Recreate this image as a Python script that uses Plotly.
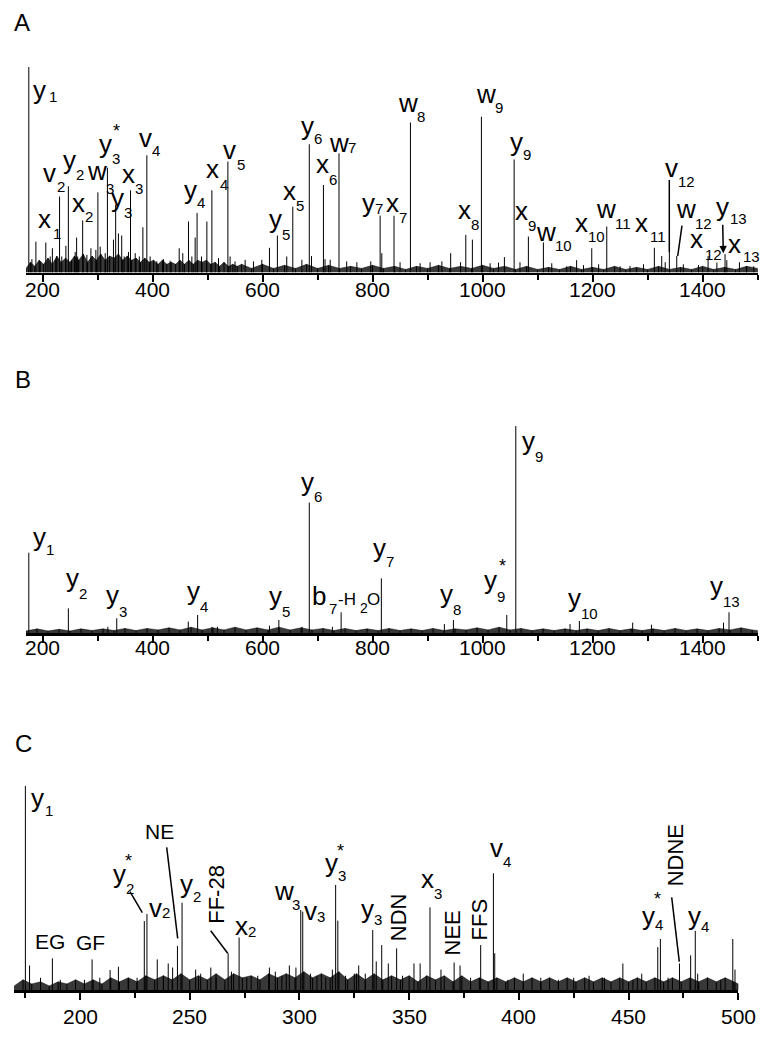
import plotly.graph_objects as go

W, H = 770, 1044
FONT = "Liberation Sans, Arial, sans-serif"

# ---------------- Panel A data (m/z, relative intensity) ----------------
A_mz = [175.1, 188, 206, 218, 231, 247, 262, 273, 300.7, 318, 333, 338, 344, 360, 382.5,
        389.7, 465.4, 481, 498.8, 507.9, 537, 612.6, 627, 655, 685, 710.7, 739, 813.8,
        839, 868.9, 942, 969.5, 981.5, 997.9, 1039.7, 1057.4, 1083.3, 1110.6, 1171,
        1198.5, 1225.8, 1312.3, 1325.7, 1339.6, 1353, 1410, 1440.8, 1467]
A_int = [1.0, 0.15, 0.146, 0.118, 0.37, 0.42, 0.17, 0.253, 0.39, 0.51, 0.33, 0.19, 0.18, 0.40, 0.22,
         0.57, 0.248, 0.29, 0.248, 0.40, 0.54, 0.12, 0.18, 0.32, 0.624, 0.426, 0.58, 0.277,
         0.276, 0.73, 0.094, 0.183, 0.16, 0.758, 0.075, 0.55, 0.175, 0.146, 0.06,
         0.118, 0.224, 0.12, 0.08, 0.10, 0.08, 0.08, 0.09, 0.05]
A_minor_mz = [180.7, 195.8, 214, 224, 235, 242.5, 253, 259.4, 264, 280.7, 288, 297, 304.9, 314,
              329, 348.5, 356.3, 368.5, 376, 395.7, 407.7, 420, 432, 448.5, 455, 471.5, 477.5,
              489, 520, 541, 550, 568.4, 583.5, 598.7, 644, 671.5, 689, 713.6, 723, 753, 771.5,
              796.8, 816.8, 850, 886.5, 904.6, 926, 960, 1013.7, 1029, 1068, 1125.8, 1153,
              1183.5, 1211, 1250, 1268, 1292.5, 1332, 1365, 1392.5, 1426, 1444, 1480, 1493]
A_minor_int = [0.065, 0.054, 0.078, 0.062, 0.078, 0.13, 0.06, 0.10, 0.078, 0.086, 0.118, 0.11, 0.126, 0.094,
               0.16, 0.078, 0.10, 0.094, 0.078, 0.078, 0.054, 0.065, 0.057, 0.118, 0.094, 0.078, 0.17,
               0.078, 0.07, 0.078, 0.054, 0.062, 0.054, 0.062, 0.078, 0.062, 0.08, 0.065, 0.062, 0.054, 0.05,
               0.054, 0.094, 0.05, 0.045, 0.05, 0.054, 0.05, 0.045, 0.048, 0.05, 0.045, 0.03,
               0.036, 0.04, 0.03, 0.032, 0.04, 0.05, 0.04, 0.036, 0.048, 0.06, 0.03, 0.03]
# noise floor ("grass") read as a jagged envelope
A_grass_mz = [170, 178, 186, 194, 202, 210, 218, 226, 234, 242, 250, 258, 266, 274, 282, 290, 298,
              306, 314, 322, 330, 338, 346, 354, 362, 370, 378, 386, 394, 402, 410, 418, 426, 434,
              442, 450, 458, 466, 474, 482, 490, 498, 506, 514, 522, 530, 538, 546, 554, 562,
              580, 600, 620, 640, 660, 680, 700, 720, 740, 760, 780, 800, 820, 840, 860, 880, 900,
              920, 940, 960, 980, 1000, 1020, 1040, 1060, 1080, 1100, 1120, 1140, 1160, 1180, 1200,
              1220, 1240, 1260, 1280, 1300, 1320, 1340, 1360, 1380, 1400, 1420, 1440, 1460, 1480, 1500]
A_grass_h = [0.02, 0.05, 0.03, 0.06, 0.04, 0.07, 0.04, 0.08, 0.05, 0.07, 0.05, 0.08, 0.06, 0.09, 0.05,
             0.08, 0.06, 0.09, 0.06, 0.08, 0.07, 0.09, 0.06, 0.08, 0.06, 0.07, 0.05, 0.07, 0.05, 0.06,
             0.04, 0.06, 0.04, 0.05, 0.04, 0.06, 0.04, 0.06, 0.04, 0.06, 0.05, 0.06, 0.04, 0.05, 0.03,
             0.05, 0.03, 0.04, 0.03, 0.04,
             0.02, 0.04, 0.02, 0.035, 0.02, 0.04, 0.02, 0.035, 0.02, 0.03,
             0.02, 0.035, 0.02, 0.03, 0.015, 0.03, 0.02, 0.035, 0.02, 0.03,
             0.02, 0.035, 0.02, 0.03, 0.015, 0.03, 0.015, 0.025, 0.015, 0.03,
             0.015, 0.025, 0.015, 0.03, 0.015, 0.025, 0.015, 0.03, 0.015, 0.025,
             0.015, 0.03, 0.015, 0.025, 0.015, 0.03, 0.02]

# ---------------- Panel B data ----------------
B_mz = [175.1, 247, 318.8, 335, 465, 482, 508, 518, 612.6, 629.7, 672, 685, 727, 742.9, 816,
        930.6, 947, 1044, 1060.4, 1159, 1176, 1272.9, 1307, 1438, 1448]
B_int = [0.388, 0.119, 0.03, 0.071, 0.055, 0.087, 0.03, 0.03, 0.035, 0.063, 0.03, 0.63, 0.03, 0.10, 0.264,
         0.043, 0.063, 0.087, 1.0, 0.043, 0.058, 0.05, 0.04, 0.05, 0.10]
B_grass_mz = [170, 190, 210, 230, 250, 270, 290, 310, 330, 350, 370, 390, 410, 430, 450, 470, 490,
              510, 530, 550, 570, 590, 610, 630, 650, 670, 690, 710, 730, 750, 770, 790, 810, 830,
              850, 870, 890, 910, 930, 950, 970, 990, 1010, 1030, 1050, 1070, 1090, 1110, 1130,
              1150, 1170, 1190, 1210, 1230, 1250, 1270, 1290, 1310, 1330, 1350, 1370, 1390, 1410,
              1430, 1450, 1470, 1490, 1500]
B_grass_h = [0.01, 0.02, 0.01, 0.018, 0.01, 0.02, 0.012, 0.02, 0.012, 0.022,
             0.012, 0.022, 0.015, 0.025, 0.015, 0.028, 0.015, 0.025, 0.015, 0.028,
             0.015, 0.025, 0.015, 0.028, 0.015, 0.025, 0.015, 0.022, 0.012, 0.022,
             0.012, 0.02, 0.012, 0.022, 0.012, 0.02, 0.012, 0.022, 0.012, 0.02,
             0.015, 0.025, 0.015, 0.028, 0.015, 0.022, 0.012, 0.02, 0.012, 0.02,
             0.012, 0.02, 0.012, 0.022, 0.012, 0.02, 0.012, 0.02, 0.012, 0.022,
             0.012, 0.02, 0.012, 0.022, 0.015, 0.025, 0.015, 0.012]

# ---------------- Panel C data ----------------
C_mz = [175.1, 177, 182, 187.4, 191, 202, 205.5, 209, 213.7, 217.5, 222, 226, 229.3, 230.5, 235.2,
        238, 240.2, 242.2, 244.4, 246.5, 252.7, 255, 259.6, 262, 267.5, 269, 272.5, 276, 281,
        286.3, 289, 292, 295.4, 298.4, 300.6, 301.5, 305, 308, 312, 315, 316.5, 317.5, 321, 325,
        327, 330, 333.4, 335, 337.5, 340.5, 344.3, 347, 352.2, 355, 359.5, 364.5, 370.5, 373.2,
        378, 382.6, 388.4, 389, 395, 402, 410, 418, 425, 432, 439, 447.4, 452, 456, 463.3,
        464.5, 468, 473.2, 478.3, 480.4, 481.5, 486, 492, 497.5, 498.5]
C_int = [1.0, 0.12, 0.06, 0.155, 0.05, 0.05, 0.15, 0.06, 0.098, 0.114, 0.05, 0.06, 0.338, 0.373, 0.15,
         0.07, 0.13, 0.11, 0.216, 0.428, 0.10, 0.08, 0.11, 0.06, 0.18, 0.09, 0.257, 0.06, 0.07,
         0.11, 0.09, 0.07, 0.12, 0.11, 0.392, 0.384, 0.08, 0.07, 0.06, 0.10, 0.515, 0.34, 0.07, 0.08,
         0.12, 0.08, 0.294, 0.14, 0.22, 0.13, 0.204, 0.07, 0.13, 0.13, 0.405, 0.10, 0.135, 0.12,
         0.06, 0.22, 0.572, 0.18, 0.05, 0.08, 0.06, 0.05, 0.06, 0.07, 0.06, 0.13, 0.05, 0.08, 0.21,
         0.25, 0.06, 0.13, 0.17, 0.29, 0.08, 0.06, 0.05, 0.25, 0.10]
C_grass_mz = [170, 174, 178, 182, 186, 190, 194, 198, 202, 206, 210, 214, 218, 222, 226, 230, 234,
              238, 242, 246, 250, 254, 258, 262, 266, 270, 274, 278, 282, 286, 290, 294, 298, 302,
              306, 310, 314, 318, 322, 326, 330, 334, 338, 342, 346, 350, 354, 358, 362, 366, 370,
              374, 378, 382, 386, 390, 394, 398, 402, 406, 410, 414, 418, 422, 426, 430, 434, 438,
              442, 446, 450, 454, 458, 462, 466, 470, 474, 478, 482, 486, 490, 494, 498, 500]
C_grass_h = [0.02, 0.05, 0.03, 0.04, 0.02, 0.04, 0.03, 0.05, 0.03, 0.05,
             0.03, 0.06, 0.04, 0.06, 0.04, 0.07, 0.05, 0.07, 0.05, 0.08,
             0.05, 0.07, 0.05, 0.08, 0.05, 0.08, 0.06, 0.07, 0.05, 0.08,
             0.06, 0.08, 0.06, 0.09, 0.06, 0.08, 0.06, 0.09, 0.05, 0.08,
             0.05, 0.08, 0.05, 0.07, 0.05, 0.07, 0.04, 0.07, 0.05, 0.07,
             0.04, 0.07, 0.04, 0.06, 0.04, 0.06, 0.04, 0.06, 0.04, 0.06,
             0.04, 0.06, 0.04, 0.06, 0.04, 0.06, 0.04, 0.06, 0.04, 0.06,
             0.04, 0.06, 0.04, 0.06, 0.04, 0.06, 0.04, 0.06, 0.04, 0.06,
             0.04, 0.06, 0.04, 0.03]

# tick labels
AB_ticks = [200, 400, 600, 800, 1000, 1200, 1400]
C_ticks = [200, 250, 300, 350, 400, 450, 500]

# ---------------- Labels (letter, subscript, glyph-left px, baseline px, sub-left px, sub-baseline px) --
A_labels = [
    ("y", "1", 33.3, 99.3, 49.3, 101.7), ("x", "1", 38.3, 228.3, 53.3, 238.3),
    ("v", "2", 43.3, 181.7, 57.3, 191.7), ("y", "2", 63.3, 169.3, 76, 180),
    ("w", "3", 87.3, 180, 106, 193.3), ("x", "2", 72.7, 211.7, 85, 221.7),
    ("y", "3", 99.3, 153.3, 111.7, 164), ("y", "3", 111, 206.7, 120.7, 217.3),
    ("x", "3", 122.7, 183.3, 135, 194), ("v", "4", 139.3, 147.3, 152.7, 156),
    ("y", "4", 184.3, 199.3, 196.7, 207.3), ("x", "4", 206.7, 178.3, 220, 189.3),
    ("v", "5", 223.3, 159.3, 237.7, 169.3), ("y", "5", 269.3, 228.3, 282.7, 240),
    ("x", "5", 283.3, 200, 296.7, 210.7), ("y", "6", 301, 135, 313.3, 144),
    ("w", "7", 329.3, 151.7, 348.3, 152.7), ("x", "6", 316, 173.3, 329, 185),
    ("y", "7", 362.3, 211.7, 375, 214), ("x", "7", 386.7, 211.7, 398.3, 222.3),
    ("w", "8", 398.3, 111.7, 416.7, 121.7), ("w", "9", 476.7, 102.7, 495, 112.7),
    ("y", "9", 510, 150.7, 523.3, 159.3), ("x", "8", 458.3, 219.3, 470, 230),
    ("x", "9", 515, 220, 528.3, 230.7), ("w", "10", 536.7, 241, 555, 251),
    ("x", "10", 575, 231.7, 586.7, 241.7), ("w", "11", 596.7, 218.3, 613.3, 228.3),
    ("x", "11", 635, 231.7, 650, 241.7), ("v", "12", 665, 176.7, 676.7, 186.7),
    ("w", "12", 676.7, 217.7, 695, 228.3), ("x", "12", 690, 248.3, 705, 259.3),
    ("y", "13", 716, 216, 730, 224), ("x", "13", 728.3, 252.7, 743.3, 261.7),
]
B_labels = [
    ("y", "1", 33.3, 545.7, 46.7, 555), ("y", "2", 66.7, 587.3, 79, 599),
    ("y", "3", 106, 604, 118.3, 616.7), ("y", "4", 187.7, 600, 199.3, 611.7),
    ("y", "5", 269.3, 605, 281.7, 616.7), ("y", "6", 301.7, 490.7, 313.3, 501.7),
    ("y", "7", 373.3, 557.3, 385, 566.7), ("y", "8", 440, 603.3, 451.7, 615),
    ("y", "9", 484, 589.3, 496.7, 601.7), ("y", "9", 522.7, 450, 534, 461.7),
    ("y", "10", 568.3, 606.7, 580, 618.3), ("y", "13", 710, 595, 723.3, 606.7),
    ("b", "7", 312.7, 605, 329.3, 613.3),
]
C_labels = [
    ("y", "1", 31.7, 806.7, 45, 816), ("y", "2", 113.3, 883.3, 125, 893.3),
    ("v", "2", 149, 916.7, 160, 918), ("y", "2", 180, 892.7, 191.7, 901.7),
    ("x", "2", 235, 935, 245, 936.7), ("w", "3", 274, 900, 290, 910),
    ("v", "3", 304, 920, 316, 921.7), ("y", "3", 325, 871.7, 336.7, 880.7),
    ("y", "3", 361.7, 918.3, 372.7, 925), ("x", "3", 421.7, 888.3, 433.3, 898.3),
    ("v", "4", 490, 857.3, 501.7, 866.7), ("y", "4", 642.7, 925, 654, 930),
    ("y", "4", 688.3, 925, 699.3, 931.7),
]
stars = [(116, 126.7), (502.7, 562.3), (128.3, 857.3), (340, 846.7), (657.7, 895)]
plain_labels = [("EG", 35.7, 948.3), ("GF", 76, 949.3), ("NE", 145, 838.3)]
rotated_labels = [("FF-28", 215.8, 894), ("NDN", 398.7, 917.5), ("NEE", 452.2, 933.3),
                  ("FFS", 479.2, 919.2), ("NDNE", 675.3, 855)]
small_parts = [("-H", 338.3, 605), ("2", 360, 613.3), ("O", 367.7, 605)]
leaders = [(669.3, 180, 669.3, 252), (682, 225.7, 677.7, 256),
           (130, 891.7, 142.3, 912.7), (166.7, 847.3, 177.7, 938.3),
           (210.7, 930.7, 227.7, 953.3), (671.7, 897.3, 679.3, 961.7)]
panel_letters = [("A", 14, 30.7), ("B", 15, 388.3), ("C", 15, 751.7)]

MAIN, SUB = 26, 15
ADV = {"y": 0.5, "x": 0.5, "v": 0.5, "w": 0.722, "b": 0.556}


def sticks(mz, inten):
    xs, ys = [], []
    for m, h in zip(mz, inten):
        xs += [m, m, None]
        ys += [0, h, None]
    return xs, ys


fig = go.Figure()
for gx, gh, xa, ya in [(A_grass_mz, A_grass_h, "x", "y"), (B_grass_mz, B_grass_h, "x2", "y2"),
                       (C_grass_mz, C_grass_h, "x3", "y3")]:
    fig.add_trace(go.Scatter(x=gx, y=gh, mode="lines", fill="tozeroy",
                             fillcolor="rgba(0,0,0,0.78)", line=dict(color="rgba(0,0,0,0.8)", width=0.6),
                             xaxis=xa, yaxis=ya, hoverinfo="skip", showlegend=False))
    xs, ys = sticks(gx, gh)
    fig.add_trace(go.Scatter(x=xs, y=ys, mode="lines", line=dict(color="black", width=1),
                             xaxis=xa, yaxis=ya, hoverinfo="skip", showlegend=False))
series = [(A_mz, A_int, "x", "y"), (A_minor_mz, A_minor_int, "x", "y"),
          (B_mz, B_int, "x2", "y2"), (C_mz, C_int, "x3", "y3")]
for mz, it, xa, ya in series:
    xs, ys = sticks(mz, it)
    fig.add_trace(go.Scatter(x=xs, y=ys, mode="lines", line=dict(color="black", width=1),
                             xaxis=xa, yaxis=ya, hoverinfo="skip", showlegend=False))


def xax(dom, rng, dtick, mdtick, mtick0, anchor):
    return dict(domain=dom, range=rng, anchor=anchor, showline=True, linecolor="black",
                linewidth=2.5, ticks="outside", ticklen=7, tickwidth=2, tickcolor="black",
                tickmode="linear", tick0=200, dtick=dtick, showgrid=False, zeroline=False,
                showticklabels=False, fixedrange=True,
                minor=dict(ticks="outside", ticklen=5, tickwidth=2, tickcolor="black",
                           dtick=mdtick, tick0=mtick0, showgrid=False))


def yax(dom, anchor):
    return dict(domain=dom, range=[0, 1], anchor=anchor, visible=False, fixedrange=True)


def py(p):
    return 1 - p / H


fig.update_layout(
    width=W, height=H, margin=dict(l=0, r=0, t=0, b=0),
    paper_bgcolor="white", plot_bgcolor="white",
    xaxis=xax([26 / W, 757.6 / W], [170, 1500], 200, 100, 200, "y"),
    yaxis=yax([py(272.5), py(67)], "x"),
    xaxis2=xax([26 / W, 757.6 / W], [170, 1500], 200, 100, 200, "y2"),
    yaxis2=yax([py(633), py(426)], "x2"),
    xaxis3=xax([14.2 / W, 738.3 / W], [170, 500.01], 50, 25, 175, "y3"),
    yaxis3=yax([py(990), py(786)], "x3"),
)

ann = []


def txt(s, left, base, size):
    ann.append(dict(text=s, x=(left - 2.3) / W, y=py(base - 0.3465 * size), xref="paper",
                    yref="paper", xanchor="left", yanchor="middle", showarrow=False,
                    font=dict(family=FONT, size=size, color="black")))


# axis tick labels
for ticks, xr, center in [(AB_ticks, "x", 289), (AB_ticks, "x2", 647), (C_ticks, "x3", 1016)]:
    for t in ticks:
        ann.append(dict(text=str(t), x=t, y=py(center), xref=xr, yref="paper",
                        xanchor="center", yanchor="middle", showarrow=False,
                        font=dict(family=FONT, size=21, color="black")))

for labels in (A_labels, B_labels, C_labels):
    for main, sub, L, B, sL, sB in labels:
        txt(main, L, B, MAIN)
        txt(sub, max(sL, L + ADV[main] * MAIN), sB, SUB)
for s, L, B in small_parts:
    txt(s, L, B, 17 if s != "2" else 14)
for s, L, B in plain_labels:
    txt(s, L, B, 21)
for s, L, B in panel_letters:
    txt(s, L, B, 24)
for cx, cy in stars:
    ann.append(dict(text="*", x=cx / W, y=py(cy + 0.23 * 18), xref="paper", yref="paper",
                    xanchor="center", yanchor="middle", showarrow=False,
                    font=dict(family=FONT, size=18, color="black")))
for s, cx, cy in rotated_labels:
    ann.append(dict(text=s, x=cx / W, y=py(cy), xref="paper", yref="paper", textangle=-90,
                    xanchor="center", yanchor="middle", showarrow=False,
                    font=dict(family=FONT, size=22, color="black")))
# y13 arrow in panel A
ann.append(dict(text="", x=723.3 / W, y=py(253.3), xref="paper", yref="paper",
                showarrow=True, ax=-0.6, ay=-30, arrowhead=2, arrowsize=1, arrowwidth=1.5,
                arrowcolor="black"))

shapes = [dict(type="line", xref="paper", yref="paper", x0=x0 / W, y0=py(y0), x1=x1 / W,
               y1=py(y1), line=dict(color="black", width=1.5)) for x0, y0, x1, y1 in leaders]
fig.update_layout(annotations=ann, shapes=shapes)

fig.write_html("out.html", config={"displayModeBar": False, "staticPlot": True},
               post_script="document.body.style.margin='0';")
